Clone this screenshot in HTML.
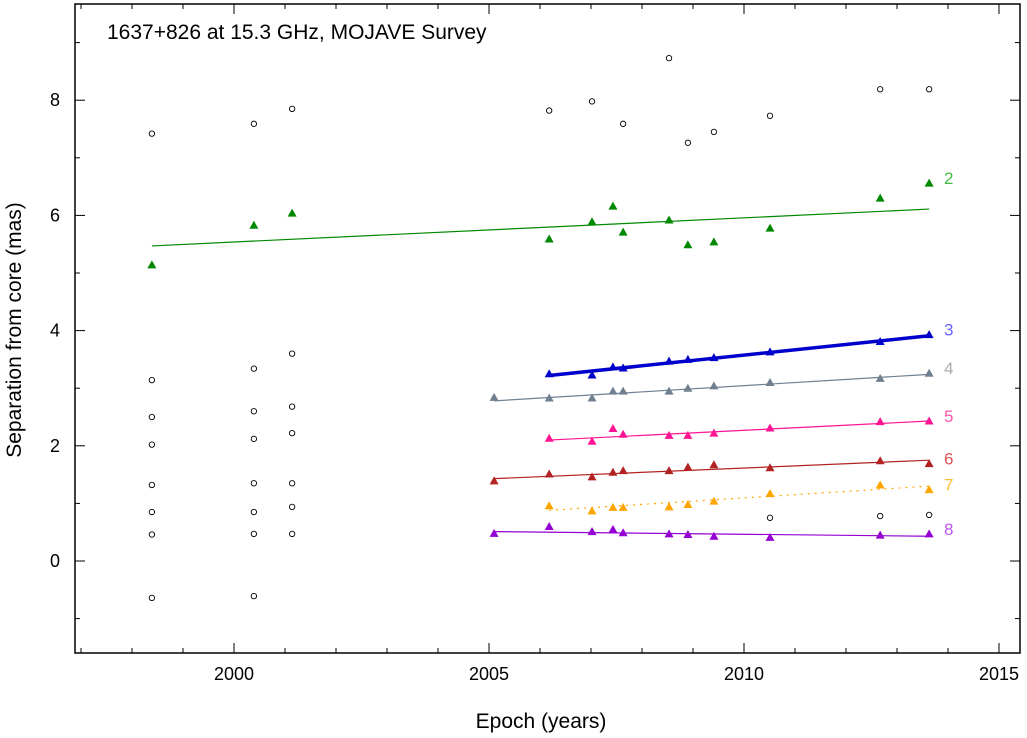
<!DOCTYPE html>
<html><head><meta charset="utf-8"><style>body{margin:0;background:#fff}svg{display:block;font-family:"Liberation Sans",sans-serif}</style></head>
<body>
<svg id="chart" width="1027" height="738"></svg>
<script>
const epochs=[1998.39,2000.39,2001.14,2005.1,2006.18,2007.02,2007.43,2007.63,2008.53,2008.9,2009.41,2010.51,2012.67,2013.63];
const comp2=[[1998.39,5.14],[2000.39,5.83],[2001.14,6.04],[2006.18,5.59],[2007.02,5.89],[2007.43,6.16],[2007.63,5.71],[2008.53,5.92],[2008.9,5.49],[2009.41,5.54],[2010.51,5.78],[2012.67,6.30],[2013.63,6.56]];
const comp3=[[2006.18,3.25],[2007.02,3.23],[2007.43,3.37],[2007.63,3.35],[2008.53,3.47],[2008.9,3.50],[2009.41,3.53],[2010.51,3.63],[2012.67,3.81],[2013.63,3.93]];
const comp4=[[2005.1,2.84],[2006.18,2.83],[2007.02,2.83],[2007.43,2.95],[2007.63,2.95],[2008.53,2.95],[2008.9,3.00],[2009.41,3.04],[2010.51,3.10],[2012.67,3.17],[2013.63,3.26]];
const comp5=[[2006.18,2.13],[2007.02,2.08],[2007.43,2.30],[2007.63,2.20],[2008.53,2.18],[2008.9,2.18],[2009.41,2.22],[2010.51,2.31],[2012.67,2.42],[2013.63,2.43]];
const comp6=[[2005.1,1.39],[2006.18,1.51],[2007.02,1.46],[2007.43,1.54],[2007.63,1.57],[2008.53,1.57],[2008.9,1.63],[2009.41,1.67],[2010.51,1.62],[2012.67,1.74],[2013.63,1.69]];
const comp7=[[2006.18,0.96],[2007.02,0.87],[2007.43,0.93],[2007.63,0.93],[2008.53,0.94],[2008.9,0.98],[2009.41,1.04],[2010.51,1.17],[2012.67,1.32],[2013.63,1.24]];
const comp8=[[2005.1,0.48],[2006.18,0.60],[2007.02,0.51],[2007.43,0.55],[2007.63,0.49],[2008.53,0.47],[2008.9,0.46],[2009.41,0.43],[2010.51,0.41],[2012.67,0.45],[2013.63,0.47]];
const fits=[[1998.39,5.47,2013.63,6.11],[2006.18,3.22,2013.63,3.91],[2005.1,2.78,2013.63,3.24],[2006.18,2.10,2013.63,2.43],[2005.1,1.43,2013.63,1.75],[2006.18,0.88,2013.63,1.30],[2005.1,0.51,2013.63,0.43]];
const unassigned=[[1998.39,7.42],[1998.39,3.14],[1998.39,2.50],[1998.39,2.02],[1998.39,1.32],[1998.39,0.85],[1998.39,0.46],[1998.39,-0.64],
[2000.39,7.59],[2000.39,3.34],[2000.39,2.60],[2000.39,2.12],[2000.39,1.35],[2000.39,0.85],[2000.39,0.47],[2000.39,-0.61],
[2001.14,7.85],[2001.14,3.60],[2001.14,2.68],[2001.14,2.22],[2001.14,1.35],[2001.14,0.94],[2001.14,0.47],
[2006.18,7.82],[2007.02,7.98],[2007.63,7.59],[2008.53,8.73],[2008.9,7.26],[2009.41,7.45],[2010.51,7.73],[2010.51,0.75],[2012.67,8.19],[2012.67,0.78],[2013.63,8.19],[2013.63,0.80]];
const xTicks=[2000,2005,2010,2015];
const yTicks=[0,2,4,6,8];
const compIds=['2','3','4','5','6','7','8'];
const colors=['#008800','#0000cc','#708090','#ff1493','#b22222','#ffa500','#9400d3'];
const labelColors=['#44bb44','#6666ff','#aaaaaa','#ff55aa','#dd5555','#ffbb33','#bb55ee'];
const series=[comp2,comp3,comp4,comp5,comp6,comp7,comp8];

const NS='http://www.w3.org/2000/svg',svg=document.getElementById('chart');
const L=75,R=1020,T=4,B=653;
const X=v=>234+51*(v-2000), Y=v=>561-57.6*v;
function mk(t,a,p){const e=document.createElementNS(NS,t);for(const k in a)e.setAttribute(k,a[k]);(p||svg).appendChild(e);return e;}
const frame=mk('rect',{x:L,y:T,width:R-L,height:B-T,fill:'none',stroke:'#000','stroke-width':1.5});


for(let yr=1997;yr<=2015;yr++){const big=yr%5==0;
 mk('line',{x1:X(yr),x2:X(yr),y1:B,y2:B-(big?10:5),stroke:'#000'});
 mk('line',{x1:X(yr),x2:X(yr),y1:T,y2:T+(big?10:5),stroke:'#000'});}
xTicks.forEach(v=>{const t=mk('text',{x:X(v),y:680,'text-anchor':'middle','font-size':18});t.textContent=v;
 
 });
for(let v=-1;v<=9;v++){const big=v%2==0;
 mk('line',{x1:L,x2:L+(big?10:5),y1:Y(v),y2:Y(v),stroke:'#000'});
 mk('line',{x1:R,x2:R-(big?10:5),y1:Y(v),y2:Y(v),stroke:'#000'});}
yTicks.forEach(v=>{const t=mk('text',{x:55,y:Y(v)+6,'text-anchor':'middle','font-size':18});t.textContent=v;
 
 });
let t=mk('text',{x:541,y:728,'text-anchor':'middle','font-size':21});t.textContent='Epoch (years)';


t=mk('text',{x:0,y:0,'text-anchor':'middle','font-size':21,transform:'translate(21,330) rotate(-90)'});t.textContent='Separation from core (mas)';


t=mk('text',{x:107,y:39,'font-size':21});t.textContent='1637+826 at 15.3 GHz, MOJAVE Survey';


unassigned.forEach(p=>{const c=mk('circle',{cx:X(p[0]),cy:Y(p[1]),r:2.7,fill:'none',stroke:'#000','stroke-width':0.9});
 
 });
fits.forEach((f,i)=>{const l=mk('line',{x1:X(f[0]),y1:Y(f[1]),x2:X(f[2]),y2:Y(f[3]),stroke:colors[i],'stroke-width':i==1?3.5:1.2});
 if(i==5)l.setAttribute('stroke-dasharray','2,5');
 
 });
series.forEach((s,i)=>{s.forEach(p=>{const x=X(p[0]),y=Y(p[1]);
 const m=mk('polygon',{points:`${x-4.5},${y+3.5} ${x+4.5},${y+3.5} ${x},${y-4.5}`,fill:colors[i]});
 
 });
 const last=s[s.length-1];const lb=mk('text',{x:944,y:Y(last[1])+1,'font-size':17,fill:labelColors[i]});lb.textContent=compIds[i];
 
 });
</script>
</body></html>
